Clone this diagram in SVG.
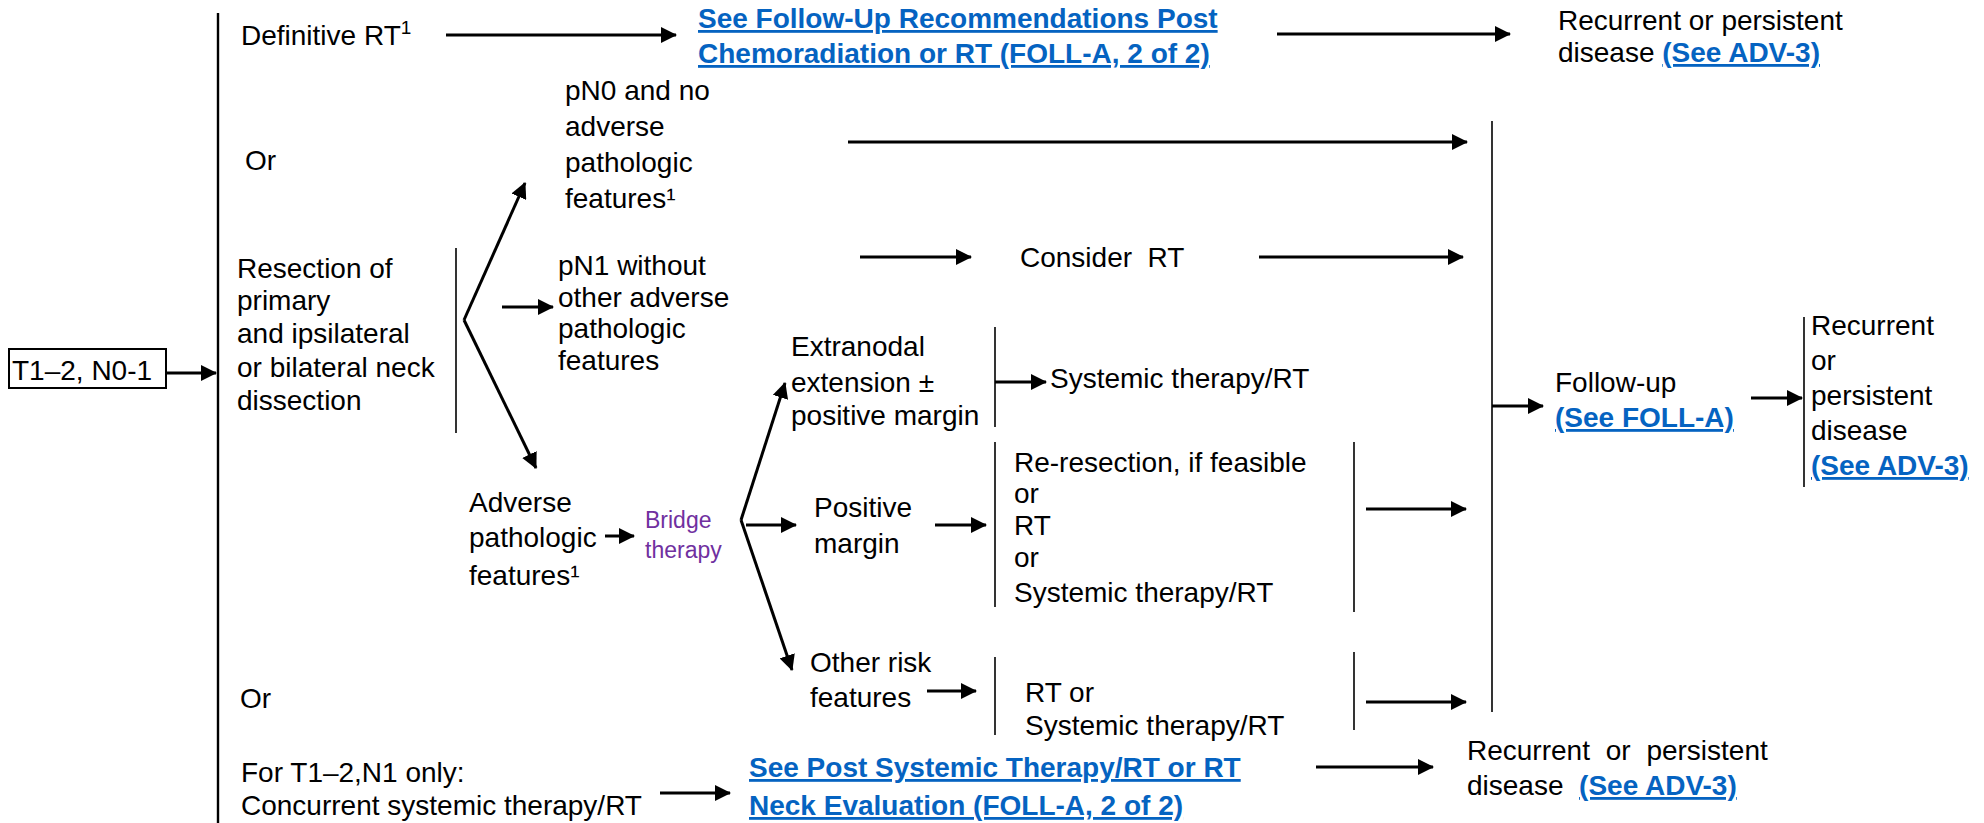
<svg xmlns="http://www.w3.org/2000/svg" width="1984" height="823" viewBox="0 0 1984 823">
<style>
text{font-family:"Liberation Sans",Arial,sans-serif;font-size:28px;fill:#000}
.lk{fill:#0563C1;font-weight:bold;text-decoration:underline}
.pu{fill:#7030A0;font-size:23px}
.c{stroke:#000;stroke-width:3;fill:none}
.v{stroke:#000;stroke-width:1.6;fill:none}
.vm{stroke:#000;stroke-width:2.4;fill:none}
</style>
<defs>
<marker id="ah" markerUnits="userSpaceOnUse" markerWidth="16" markerHeight="16" refX="15" refY="8" orient="auto">
<path d="M0,0 L16,8 L0,16 z" fill="#000"/>
</marker>
</defs>
<rect width="1984" height="823" fill="#fff"/>

<g id="connectors">
<line class="vm" x1="218" y1="13" x2="218" y2="823"/>
<line class="c" x1="166" y1="373" x2="216" y2="373" marker-end="url(#ah)"/>
<line class="c" x1="446" y1="35" x2="676" y2="35" marker-end="url(#ah)"/>
<line class="c" x1="1277" y1="34" x2="1510" y2="34" marker-end="url(#ah)"/>
<line class="c" x1="848" y1="142" x2="1467" y2="142" marker-end="url(#ah)"/>
<line class="v" x1="456" y1="248" x2="456" y2="433"/>
<line class="c" x1="464" y1="320" x2="525" y2="183" marker-end="url(#ah)"/>
<line class="c" x1="464" y1="320" x2="536" y2="468" marker-end="url(#ah)"/>
<line class="c" x1="502" y1="307" x2="553" y2="307" marker-end="url(#ah)"/>
<line class="c" x1="860" y1="257" x2="971" y2="257" marker-end="url(#ah)"/>
<line class="c" x1="1259" y1="257" x2="1463" y2="257" marker-end="url(#ah)"/>
<line class="c" x1="605" y1="536" x2="634" y2="536" marker-end="url(#ah)"/>
<line class="c" x1="741" y1="520" x2="785" y2="383" marker-end="url(#ah)"/>
<line class="c" x1="741" y1="520" x2="792" y2="670" marker-end="url(#ah)"/>
<line class="c" x1="746" y1="525" x2="796" y2="525" marker-end="url(#ah)"/>
<line class="c" x1="935" y1="525" x2="986" y2="525" marker-end="url(#ah)"/>
<line class="v" x1="995" y1="327" x2="995" y2="427"/>
<line class="c" x1="995" y1="382" x2="1046" y2="382" marker-end="url(#ah)"/>
<line class="v" x1="995" y1="442" x2="995" y2="607"/>
<line class="c" x1="927" y1="691" x2="976" y2="691" marker-end="url(#ah)"/>
<line class="v" x1="995" y1="657" x2="995" y2="735"/>
<line class="v" x1="1354" y1="442" x2="1354" y2="612"/>
<line class="c" x1="1366" y1="509" x2="1466" y2="509" marker-end="url(#ah)"/>
<line class="v" x1="1354" y1="652" x2="1354" y2="730"/>
<line class="c" x1="1366" y1="702" x2="1466" y2="702" marker-end="url(#ah)"/>
<line class="v" x1="1492" y1="121" x2="1492" y2="712"/>
<line class="c" x1="1492" y1="406" x2="1543" y2="406" marker-end="url(#ah)"/>
<line class="c" x1="1751" y1="398" x2="1802" y2="398" marker-end="url(#ah)"/>
<line class="v" x1="1804" y1="317" x2="1804" y2="487"/>
<line class="c" x1="660" y1="793" x2="730" y2="793" marker-end="url(#ah)"/>
<line class="c" x1="1316" y1="767" x2="1433" y2="767" marker-end="url(#ah)"/>
</g>

<g id="start">
<rect x="9" y="349" width="157" height="39" fill="none" stroke="#000" stroke-width="2"/>
<text x="12" y="380">T1–2, N0-1</text>
</g>
<g id="definitive"><text x="241" y="45">Definitive RT<tspan font-size="19" dy="-11">1</tspan></text></g>
<g id="foll-link">
<text class="lk" x="698" y="28">See Follow-Up Recommendations Post</text>
<text class="lk" x="698" y="63">Chemoradiation or RT (FOLL-A, 2 of 2)</text>
</g>
<g id="recurrent-top">
<text x="1558" y="30">Recurrent or persistent</text>
<text x="1558" y="62">disease <tspan class="lk">(See ADV-3)</tspan></text>
</g>
<g id="or1"><text x="245" y="170">Or</text></g>
<g id="pn0">
<text x="565" y="100">pN0 and no</text>
<text x="565" y="136">adverse</text>
<text x="565" y="172">pathologic</text>
<text x="565" y="208">features¹</text>
</g>
<g id="resection">
<text x="237" y="278">Resection of</text>
<text x="237" y="310">primary</text>
<text x="237" y="343">and ipsilateral</text>
<text x="237" y="377">or bilateral neck</text>
<text x="237" y="410">dissection</text>
</g>
<g id="pn1">
<text x="558" y="275">pN1 without</text>
<text x="558" y="307">other adverse</text>
<text x="558" y="338">pathologic</text>
<text x="558" y="370">features</text>
</g>
<g id="consider"><text x="1020" y="267" xml:space="preserve">Consider  RT</text></g>
<g id="extranodal">
<text x="791" y="356">Extranodal</text>
<text x="791" y="392">extension ±</text>
<text x="791" y="425">positive margin</text>
</g>
<g id="systemic1"><text x="1050" y="388">Systemic therapy/RT</text></g>
<g id="followup">
<text x="1555" y="392">Follow-up</text>
<text class="lk" x="1555" y="427">(See FOLL-A)</text>
</g>
<g id="recurrent-right">
<text x="1811" y="335">Recurrent</text>
<text x="1811" y="370">or</text>
<text x="1811" y="405">persistent</text>
<text x="1811" y="440">disease</text>
<text class="lk" x="1811" y="475">(See ADV-3)</text>
</g>
<g id="adverse">
<text x="469" y="512">Adverse</text>
<text x="469" y="547">pathologic</text>
<text x="469" y="585">features¹</text>
</g>
<g id="bridge">
<text class="pu" x="645" y="528">Bridge</text>
<text class="pu" x="645" y="558">therapy</text>
</g>
<g id="positive">
<text x="814" y="517">Positive</text>
<text x="814" y="553">margin</text>
</g>
<g id="reresection">
<text x="1014" y="472">Re-resection, if feasible</text>
<text x="1014" y="503">or</text>
<text x="1014" y="535">RT</text>
<text x="1014" y="567">or</text>
<text x="1014" y="602">Systemic therapy/RT</text>
</g>
<g id="otherrisk">
<text x="810" y="672">Other risk</text>
<text x="810" y="707">features</text>
</g>
<g id="rtor">
<text x="1025" y="702">RT or</text>
<text x="1025" y="735">Systemic therapy/RT</text>
</g>
<g id="or2"><text x="240" y="708">Or</text></g>
<g id="concurrent">
<text x="241" y="782">For T1–2,N1 only:</text>
<text x="241" y="815">Concurrent systemic therapy/RT</text>
</g>
<g id="post-link">
<text class="lk" x="749" y="777">See Post Systemic Therapy/RT or RT</text>
<text class="lk" x="749" y="815">Neck Evaluation (FOLL-A, 2 of 2)</text>
</g>
<g id="recurrent-bottom">
<text x="1467" y="760" word-spacing="8">Recurrent or persistent</text>
<text x="1467" y="795" xml:space="preserve">disease  <tspan class="lk">(See ADV-3)</tspan></text>
</g>
</svg>
